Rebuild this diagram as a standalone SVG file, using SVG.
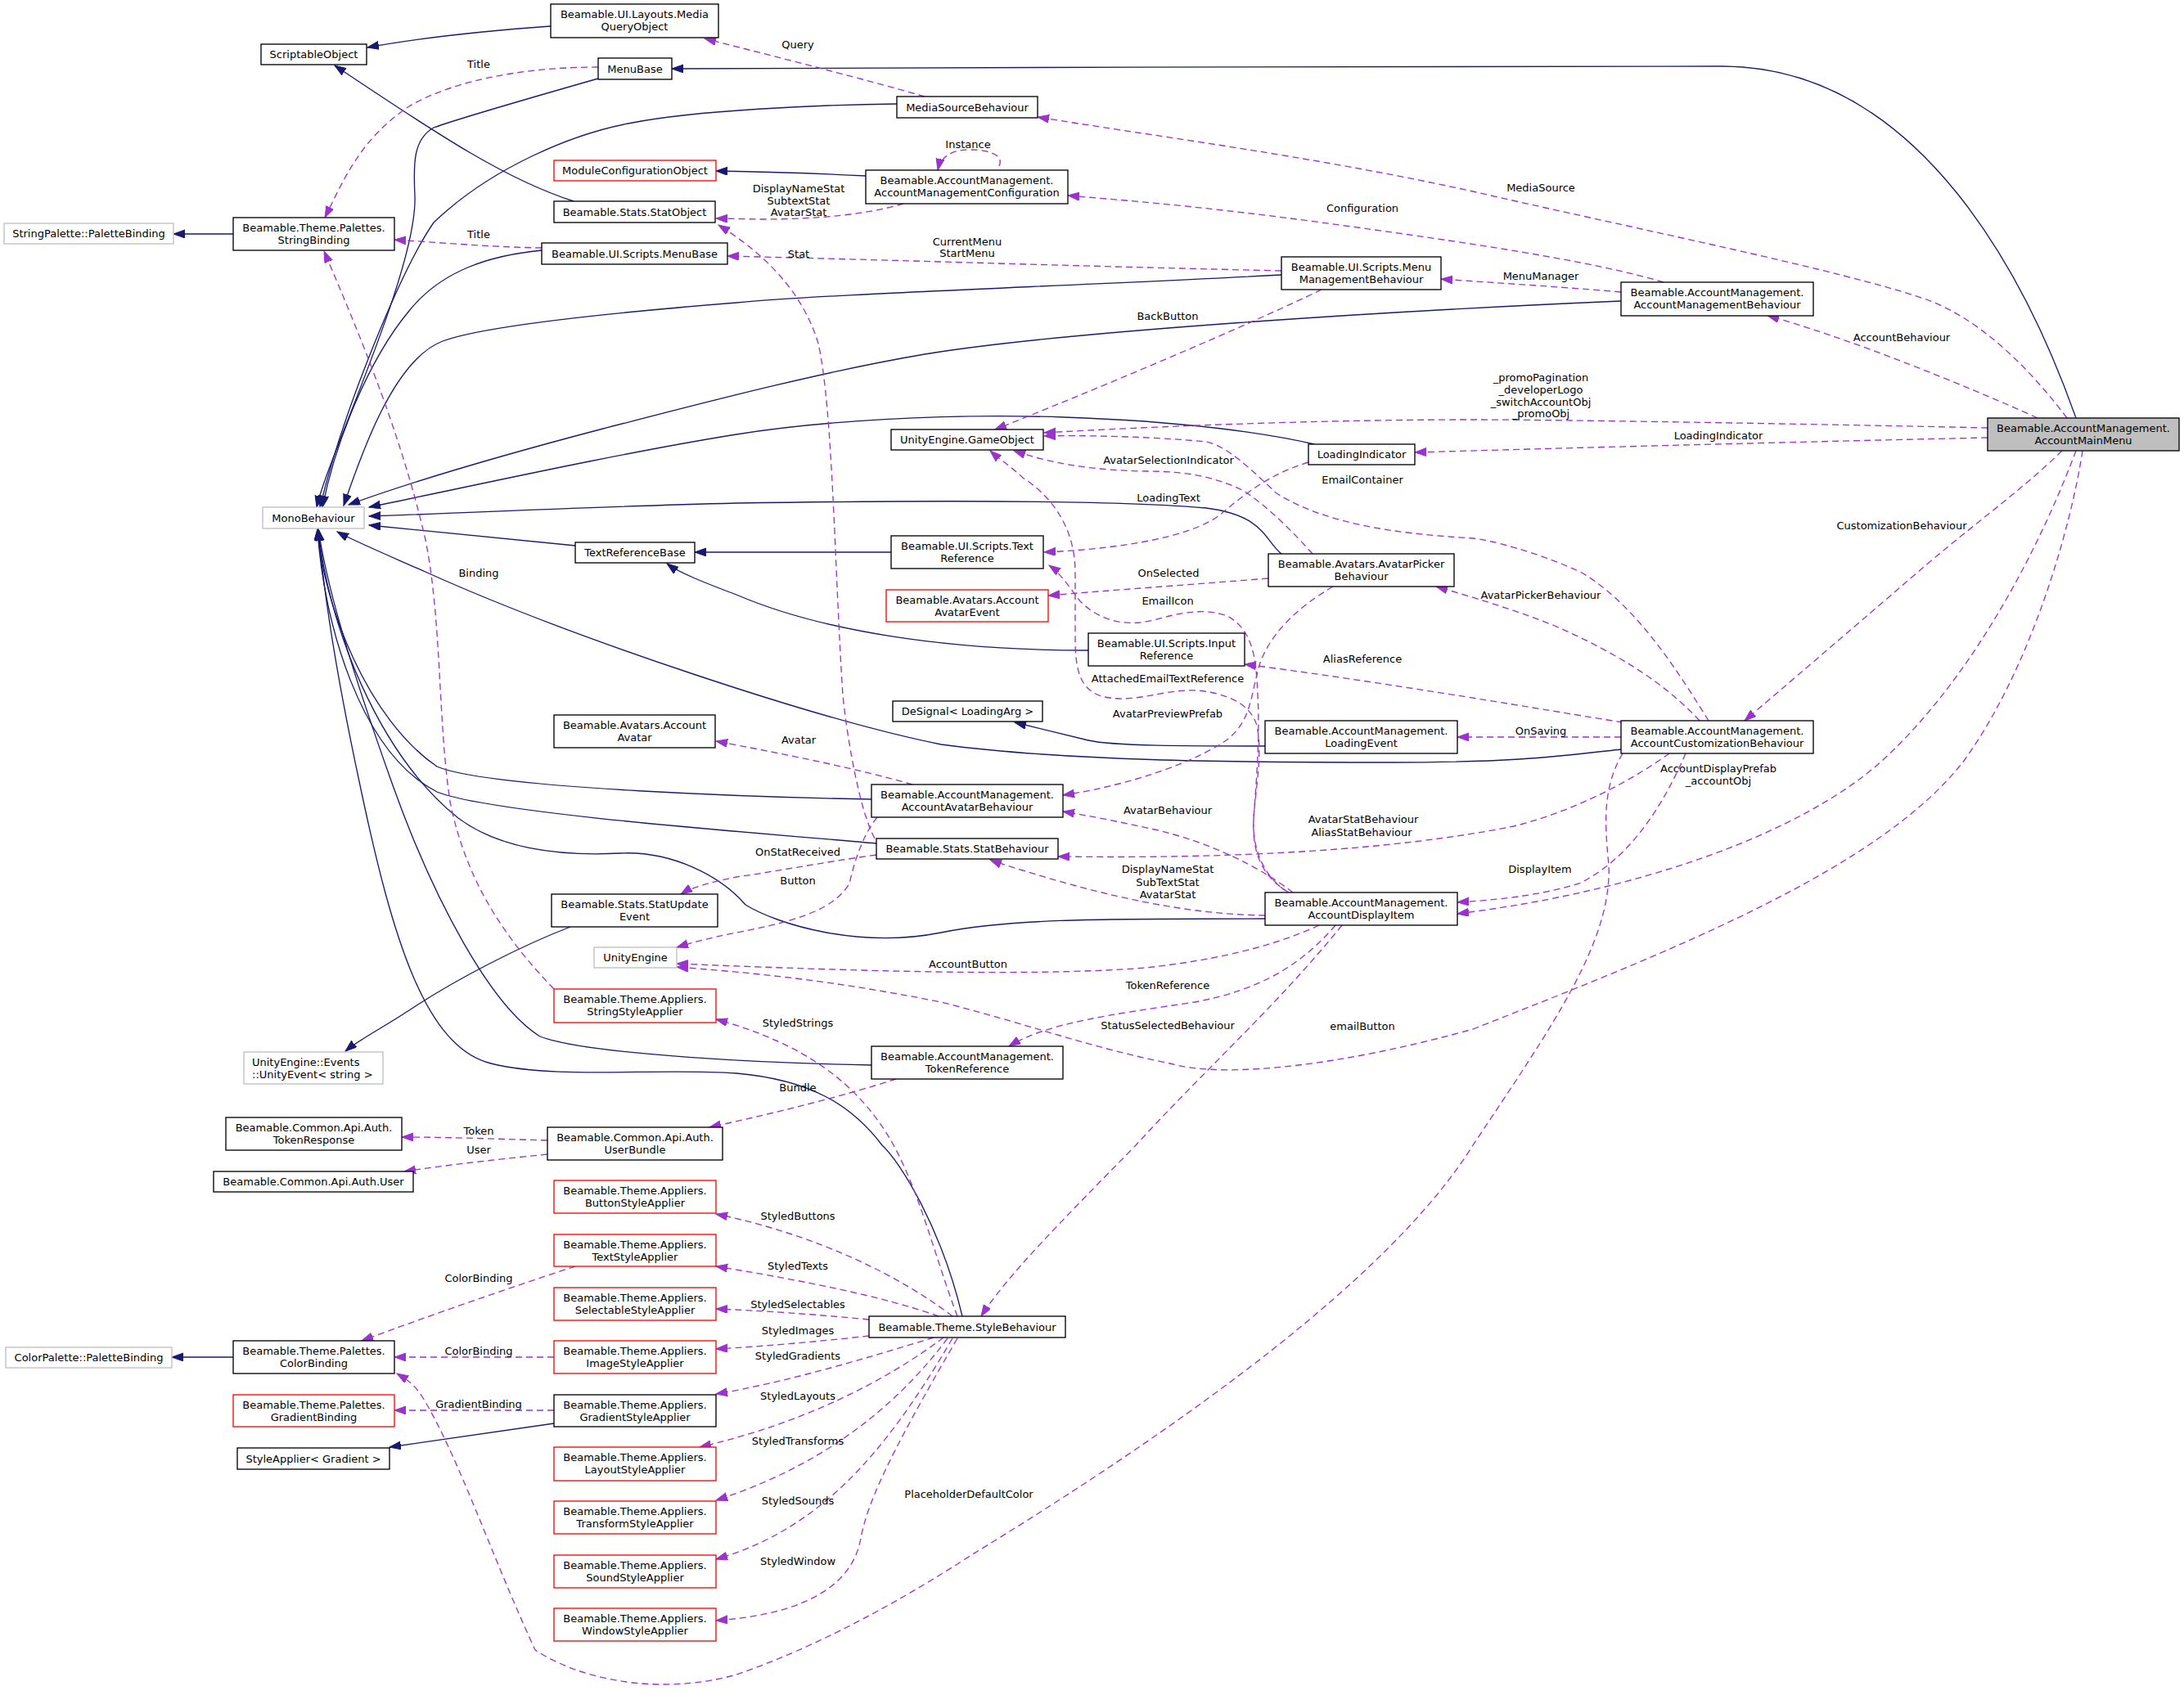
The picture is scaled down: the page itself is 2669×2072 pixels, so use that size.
<svg xmlns="http://www.w3.org/2000/svg" width="2669" height="2072" viewBox="0 0 2669 2072">
<style>
.n rect{fill:#fff;stroke:#000;stroke-width:1.33}
.n.red rect{stroke:#ff0000}
.n.gray rect{stroke:#bfbfbf}
.n.main rect{fill:#bfbfbf}
text{font-family:"DejaVu Sans",sans-serif;font-size:13px;text-anchor:middle;fill:#000}
.l{text-anchor:start}
.inh{stroke:#191970;fill:none;stroke-width:1.33;marker-end:url(#ah)}
.use{stroke:#9a32cd;fill:none;stroke-width:1.33;stroke-dasharray:8,5;marker-end:url(#au)}
</style>
<defs>
<marker id="ah" markerUnits="userSpaceOnUse" markerWidth="16" markerHeight="12" refX="14" refY="5" orient="auto"><path d="M0,0 L14,5 L0,10 z" fill="#191970" stroke="#191970"/></marker>
<marker id="au" markerUnits="userSpaceOnUse" markerWidth="16" markerHeight="12" refX="14" refY="5" orient="auto"><path d="M0,0 L14,5 L0,10 z" fill="#9a32cd" stroke="#9a32cd"/></marker>
</defs>
<rect width="2669" height="2072" fill="#fff"/>
<g id="connectors">
<path class="inh" d="M673,32 C590,38 520,45 449,58"/>
<path class="inh" d="M701,246 C620,220 540,168 409,80"/>
<path class="inh" d="M285,286 L212,286"/>
<path class="inh" d="M731,96 C640,122 560,145 530,156 C505,170 505,200 507,240 C510,330 400,560 387,620"/>
<path class="inh" d="M1096,127 C1000,128 850,135 773,150 C700,163 600,205 530,272 C490,330 420,500 391,620"/>
<path class="inh" d="M662,306 C600,312 540,330 500,380 C450,440 410,540 394,620"/>
<path class="inh" d="M1566,336 C1300,350 1000,360 900,370 C800,378 600,395 541,417 C480,440 440,560 420,618"/>
<path class="inh" d="M1981,368 C1700,380 1300,405 1130,433 C1000,455 850,495 737,524 C600,560 500,590 426,617"/>
<path class="inh" d="M1606,543 C1550,530 1450,515 1300,510 C1150,505 1000,515 900,531 C750,555 550,600 451,620"/>
<path class="inh" d="M1566,677 C1545,660 1545,630 1474,621 C1350,610 1100,612 900,615 C700,620 550,628 451,631"/>
<path class="inh" d="M703,667 L451,642"/>
<path class="inh" d="M1981,916 C1900,925 1850,932 1700,932 C1500,932 1300,930 1150,910 C1000,880 700,780 522,700 C470,677 430,660 412,650"/>
<path class="inh" d="M1065,977 C950,975 600,965 534,937 C450,880 395,740 388,647"/>
<path class="inh" d="M1071,1031 C950,1020 600,995 534,968 C440,920 395,760 388,647"/>
<path class="inh" d="M1546,1123 C1400,1124 1250,1120 1150,1140 C1050,1160 950,1130 911,1106 C880,1070 820,1040 758,1043 C660,1048 600,1030 560,1000 C460,920 400,760 389,647"/>
<path class="inh" d="M1065,1302 C950,1300 720,1290 660,1267 C600,1230 530,1100 480,960 C430,820 400,720 389,647"/>
<path class="inh" d="M1176,1609 C1150,1500 1100,1420 1078,1400 C1040,1350 990,1320 900,1312 C800,1305 680,1320 600,1300 C520,1280 480,1150 440,960 C410,820 395,720 389,647"/>
<path class="inh" d="M1089,675 L849,675"/>
<path class="inh" d="M1330,795 C1150,795 1000,770 900,727 C860,712 830,700 815,689"/>
<path class="inh" d="M1546,912 C1450,912 1360,912 1330,905 C1290,895 1260,888 1240,883"/>
<path class="inh" d="M697,1133 C640,1155 560,1195 500,1235 C470,1255 440,1270 422,1285"/>
<path class="inh" d="M677,1740 L476,1769"/>
<path class="inh" d="M285,1659 L210,1659"/>
<path class="inh" d="M2537,511 C2480,350 2350,82 2105,81 C1800,80 1200,83 821,84"/>
<path class="inh" d="M1058,215 C1000,212 930,210 875,209"/>
<path class="use" d="M1130,118 C1050,95 950,70 861,47"/>
<path class="use" d="M1104,249 C1060,262 1000,268 930,268 L875,267"/>
<path class="use" d="M1221,203 C1228,188 1205,183 1185,183 C1165,183 1150,190 1146,208"/>
<path class="use" d="M731,82 C650,82 560,95 500,130 C440,170 420,220 397,266"/>
<path class="use" d="M662,303 C600,302 530,296 482,293"/>
<path class="use" d="M1566,331 C1300,325 1100,318 889,313"/>
<path class="use" d="M1069,1025 C1050,990 1035,900 1030,850 C1020,700 1018,500 1000,420 C985,370 950,320 878,275"/>
<path class="use" d="M1615,354 C1520,400 1330,480 1216,525"/>
<path class="use" d="M2526,511 C2480,450 2420,390 2354,366 C2250,330 2000,280 1800,234 C1600,190 1400,165 1268,143"/>
<path class="use" d="M2490,511 C2400,470 2250,410 2160,386"/>
<path class="use" d="M2033,345 C1950,320 1800,297 1600,270 C1450,250 1350,243 1305,239"/>
<path class="use" d="M1981,357 C1900,350 1800,344 1761,341"/>
<path class="use" d="M2429,523 C2200,518 1900,513 1800,513 C1600,513 1400,522 1276,529"/>
<path class="use" d="M2429,535 C2200,540 1900,548 1729,553"/>
<path class="use" d="M2520,551 C2470,600 2400,650 2343,700 C2250,780 2180,840 2132,881"/>
<path class="use" d="M2537,551 C2500,650 2420,820 2300,930 C2200,1020 2000,1090 1781,1117"/>
<path class="use" d="M2060,921 C2030,990 1990,1050 1930,1080 C1880,1095 1830,1100 1781,1103"/>
<path class="use" d="M2545,551 C2530,650 2480,820 2400,930 C2300,1060 2050,1160 1800,1258 C1650,1300 1500,1320 1430,1300 C1330,1280 1250,1250 1150,1225 C1000,1195 900,1188 827,1182"/>
<path class="use" d="M1983,921 C1960,960 1960,1000 1966,1057 C1970,1150 1900,1250 1800,1400 C1700,1560 1450,1740 1187,1901 C1050,1990 950,2030 900,2047 C820,2070 720,2060 654,2017 C600,1900 560,1780 517,1709 C505,1690 495,1685 485,1679"/>
<path class="use" d="M2088,881 C2050,820 2000,740 1933,700 C1880,675 1820,660 1800,658 C1700,652 1620,640 1560,603 C1530,575 1500,545 1474,540 C1400,533 1320,532 1276,533"/>
<path class="use" d="M1604,677 C1580,650 1550,620 1520,600 C1480,580 1440,576 1400,576 C1330,575 1280,565 1239,551"/>
<path class="use" d="M1575,1091 C1540,1070 1530,1040 1532,1000 C1535,960 1543,921 1536,887 C1528,860 1500,848 1464,844 C1420,842 1390,860 1350,852 C1320,845 1314,820 1314,780 L1314,700 C1314,650 1290,610 1250,584 C1235,570 1220,560 1210,551"/>
<path class="use" d="M1571,1089 C1545,1070 1530,1040 1532,1000 C1535,960 1540,900 1537,850 C1535,800 1530,770 1500,753 C1470,742 1440,750 1410,758 C1370,768 1340,755 1320,735 C1305,715 1295,700 1282,691"/>
<path class="use" d="M1599,565 C1550,580 1520,605 1490,630 C1450,660 1350,672 1276,675"/>
<path class="use" d="M1550,707 C1450,715 1350,722 1281,728"/>
<path class="use" d="M1629,717 C1590,740 1555,770 1540,810 C1528,850 1530,880 1500,904 C1460,932 1380,960 1299,972"/>
<path class="use" d="M2077,881 C2030,830 1966,794 1900,765 C1850,745 1800,730 1755,717"/>
<path class="use" d="M1983,883 C1900,870 1700,835 1521,812"/>
<path class="use" d="M1981,901 L1781,901"/>
<path class="use" d="M2040,921 C2000,950 1930,990 1850,1010 C1700,1040 1500,1050 1293,1047"/>
<path class="use" d="M1580,1091 C1540,1060 1480,1030 1411,1014 C1370,1005 1330,997 1299,992"/>
<path class="use" d="M1546,1119 C1450,1118 1350,1095 1250,1064 C1230,1058 1215,1053 1210,1051"/>
<path class="use" d="M1612,1131 C1550,1160 1474,1175 1400,1183 C1250,1195 1000,1185 827,1178"/>
<path class="use" d="M1632,1131 C1590,1180 1540,1210 1460,1225 C1360,1240 1280,1250 1233,1279"/>
<path class="use" d="M1640,1131 C1560,1230 1470,1310 1388,1400 C1300,1490 1230,1560 1199,1609"/>
<path class="use" d="M1115,959 C1050,940 950,920 875,906"/>
<path class="use" d="M1071,1045 C1000,1055 950,1065 900,1072 C870,1078 845,1085 832,1093"/>
<path class="use" d="M1072,999 C1055,1020 1045,1050 1038,1080 C1020,1110 980,1125 900,1140 C860,1148 840,1154 827,1158"/>
<path class="use" d="M1095,1319 C1030,1340 950,1360 867,1378"/>
<path class="use" d="M669,1394 C600,1392 540,1390 491,1390"/>
<path class="use" d="M669,1411 C600,1418 540,1425 494,1432"/>
<path class="use" d="M1170,1609 C1140,1530 1120,1440 1080,1380 C1040,1320 980,1275 875,1246"/>
<path class="use" d="M677,1209 C620,1150 570,1080 550,980 C535,880 540,760 520,660 C490,530 440,410 396,307"/>
<path class="use" d="M1164,1609 C1100,1560 1000,1510 875,1484"/>
<path class="use" d="M1147,1609 C1080,1585 980,1565 875,1548"/>
<path class="use" d="M1062,1613 C1000,1607 930,1602 875,1600"/>
<path class="use" d="M1062,1633 C1000,1640 930,1646 875,1649"/>
<path class="use" d="M1141,1635 C1060,1660 960,1690 875,1704"/>
<path class="use" d="M1153,1635 C1080,1690 980,1740 855,1769"/>
<path class="use" d="M1158,1636 C1080,1740 980,1800 875,1834"/>
<path class="use" d="M1164,1636 C1080,1780 1000,1870 875,1906"/>
<path class="use" d="M1170,1636 C1080,1790 1060,1840 1052,1880 C1040,1950 960,1975 875,1981"/>
<path class="use" d="M703,1548 C620,1575 520,1610 442,1639"/>
<path class="use" d="M677,1659 L482,1659"/>
<path class="use" d="M677,1724 L482,1724"/>
<g id="edge-labels">
<text x="975" y="59">Query</text>
<text x="1183" y="181">Instance</text>
<text x="976" y="235">DisplayNameStat</text>
<text x="976" y="250">SubtextStat</text>
<text x="976" y="264">AvatarStat</text>
<text x="585" y="83">Title</text>
<text x="585" y="291">Title</text>
<text x="1182" y="300">CurrentMenu</text>
<text x="1182" y="314">StartMenu</text>
<text x="976" y="315">Stat</text>
<text x="1883" y="234">MediaSource</text>
<text x="2324" y="417">AccountBehaviour</text>
<text x="1665" y="259">Configuration</text>
<text x="1883" y="342">MenuManager</text>
<text x="1427" y="391">BackButton</text>
<text x="1883" y="466">_promoPagination</text>
<text x="1883" y="481">_developerLogo</text>
<text x="1883" y="496">_switchAccountObj</text>
<text x="1883" y="510">_promoObj</text>
<text x="2100" y="537">LoadingIndicator</text>
<text x="2324" y="647">CustomizationBehaviour</text>
<text x="1882" y="1067">DisplayItem</text>
<text x="2100" y="944">AccountDisplayPrefab</text>
<text x="2100" y="959">_accountObj</text>
<text x="1665" y="1259">emailButton</text>
<text x="1184" y="1831">PlaceholderDefaultColor</text>
<text x="1665" y="591">EmailContainer</text>
<text x="1428" y="567">AvatarSelectionIndicator</text>
<text x="1427" y="739">EmailIcon</text>
<text x="1427" y="834">AttachedEmailTextReference</text>
<text x="1428" y="613">LoadingText</text>
<text x="1428" y="705">OnSelected</text>
<text x="1427" y="877">AvatarPreviewPrefab</text>
<text x="1883" y="732">AvatarPickerBehaviour</text>
<text x="1665" y="810">AliasReference</text>
<text x="1883" y="898">OnSaving</text>
<text x="1666" y="1006">AvatarStatBehaviour</text>
<text x="1664" y="1022">AliasStatBehaviour</text>
<text x="1427" y="995">AvatarBehaviour</text>
<text x="1427" y="1067">DisplayNameStat</text>
<text x="1427" y="1083">SubTextStat</text>
<text x="1427" y="1098">AvatarStat</text>
<text x="1183" y="1183">AccountButton</text>
<text x="1427" y="1209">TokenReference</text>
<text x="1427" y="1258">StatusSelectedBehaviour</text>
<text x="976" y="909">Avatar</text>
<text x="975" y="1046">OnStatReceived</text>
<text x="975" y="1081">Button</text>
<text x="975" y="1334">Bundle</text>
<text x="585" y="1387">Token</text>
<text x="585" y="1410">User</text>
<text x="975" y="1255">StyledStrings</text>
<text x="585" y="705">Binding</text>
<text x="975" y="1491">StyledButtons</text>
<text x="975" y="1552">StyledTexts</text>
<text x="975" y="1599">StyledSelectables</text>
<text x="975" y="1631">StyledImages</text>
<text x="975" y="1662">StyledGradients</text>
<text x="975" y="1711">StyledLayouts</text>
<text x="975" y="1766">StyledTransforms</text>
<text x="975" y="1839">StyledSounds</text>
<text x="975" y="1913">StyledWindow</text>
<text x="585" y="1567">ColorBinding</text>
<text x="585" y="1656">ColorBinding</text>
<text x="585" y="1721">GradientBinding</text>
</g>
</g>
<g id="nodes">
<g id="n_mediaquery" class="n"><rect x="673" y="5" width="205" height="41"/><text x="775.5" y="22">Beamable.UI.Layouts.Media</text><text x="775.5" y="37">QueryObject</text></g>
<g id="n_scriptable" class="n"><rect x="319" y="54" width="129" height="25"/><text x="383.5" y="71">ScriptableObject</text></g>
<g id="n_menubase" class="n"><rect x="731" y="71" width="90" height="26"/><text x="776" y="88.5">MenuBase</text></g>
<g id="n_moduleconfig" class="n red"><rect x="677" y="196" width="198" height="25"/><text x="776" y="213">ModuleConfigurationObject</text></g>
<g id="n_statobject" class="n"><rect x="677" y="246" width="197" height="26"/><text x="775.5" y="263.5">Beamable.Stats.StatObject</text></g>
<g id="n_stringbinding" class="n"><rect x="285" y="266" width="197" height="40"/><text x="383.5" y="283">Beamable.Theme.Palettes.</text><text x="383.5" y="298">StringBinding</text></g>
<g id="n_stringpalette" class="n gray"><rect x="5" y="273" width="207" height="25"/><text x="108.5" y="290">StringPalette::PaletteBinding</text></g>
<g id="n_uimenubase" class="n"><rect x="662" y="297" width="227" height="26"/><text x="775.5" y="314.5">Beamable.UI.Scripts.MenuBase</text></g>
<g id="n_mono" class="n gray"><rect x="321" y="620" width="124" height="26"/><text x="383" y="637.5">MonoBehaviour</text></g>
<g id="n_textrefbase" class="n"><rect x="703" y="663" width="146" height="25"/><text x="776" y="680">TextReferenceBase</text></g>
<g id="n_mediasource" class="n"><rect x="1096" y="118" width="172" height="26"/><text x="1182" y="135.5">MediaSourceBehaviour</text></g>
<g id="n_amconfig" class="n"><rect x="1058" y="208" width="247" height="41"/><text x="1181.5" y="225">Beamable.AccountManagement.</text><text x="1181.5" y="240">AccountManagementConfiguration</text></g>
<g id="n_menumgmt" class="n"><rect x="1566" y="314" width="195" height="40"/><text x="1663.5" y="331">Beamable.UI.Scripts.Menu</text><text x="1663.5" y="346">ManagementBehaviour</text></g>
<g id="n_gameobject" class="n"><rect x="1089" y="525" width="186" height="25"/><text x="1182" y="542">UnityEngine.GameObject</text></g>
<g id="n_loadingind" class="n"><rect x="1599" y="543" width="130" height="25"/><text x="1664" y="560">LoadingIndicator</text></g>
<g id="n_textref" class="n"><rect x="1089" y="655" width="186" height="40"/><text x="1182" y="672">Beamable.UI.Scripts.Text</text><text x="1182" y="687">Reference</text></g>
<g id="n_avatarpicker" class="n"><rect x="1550" y="677" width="227" height="40"/><text x="1663.5" y="694">Beamable.Avatars.AvatarPicker</text><text x="1663.5" y="709">Behaviour</text></g>
<g id="n_ambehaviour" class="n"><rect x="1981" y="345" width="235" height="41"/><text x="2098.5" y="362">Beamable.AccountManagement.</text><text x="2098.5" y="377">AccountManagementBehaviour</text></g>
<g id="n_mainmenu" class="n main"><rect x="2429" y="511" width="234" height="40"/><text x="2546" y="528">Beamable.AccountManagement.</text><text x="2546" y="543">AccountMainMenu</text></g>
<g id="n_avatarevent" class="n red"><rect x="1083" y="721" width="198" height="39"/><text x="1182" y="738">Beamable.Avatars.Account</text><text x="1182" y="753">AvatarEvent</text></g>
<g id="n_inputref" class="n"><rect x="1330" y="774" width="191" height="40"/><text x="1425.5" y="791">Beamable.UI.Scripts.Input</text><text x="1425.5" y="806">Reference</text></g>
<g id="n_designal" class="n"><rect x="1091" y="857" width="183" height="25"/><text x="1182.5" y="874">DeSignal&lt; LoadingArg &gt;</text></g>
<g id="n_loadingevent" class="n"><rect x="1546" y="881" width="235" height="40"/><text x="1663.5" y="898">Beamable.AccountManagement.</text><text x="1663.5" y="913">LoadingEvent</text></g>
<g id="n_avatarbeh" class="n"><rect x="1065" y="959" width="234" height="40"/><text x="1182" y="976">Beamable.AccountManagement.</text><text x="1182" y="991">AccountAvatarBehaviour</text></g>
<g id="n_statbeh" class="n"><rect x="1071" y="1025" width="222" height="25"/><text x="1182" y="1042">Beamable.Stats.StatBehaviour</text></g>
<g id="n_displayitem" class="n"><rect x="1546" y="1091" width="235" height="40"/><text x="1663.5" y="1108">Beamable.AccountManagement.</text><text x="1663.5" y="1123">AccountDisplayItem</text></g>
<g id="n_tokenref" class="n"><rect x="1065" y="1279" width="234" height="40"/><text x="1182" y="1296">Beamable.AccountManagement.</text><text x="1182" y="1311">TokenReference</text></g>
<g id="n_accountavatar" class="n"><rect x="677" y="874" width="197" height="40"/><text x="775.5" y="891">Beamable.Avatars.Account</text><text x="775.5" y="906">Avatar</text></g>
<g id="n_statupdate" class="n"><rect x="674" y="1093" width="203" height="40"/><text x="775.5" y="1110">Beamable.Stats.StatUpdate</text><text x="775.5" y="1125">Event</text></g>
<g id="n_unityengine" class="n gray"><rect x="726" y="1158" width="101" height="25"/><text x="776.5" y="1175">UnityEngine</text></g>
<g id="n_stringstyle" class="n red"><rect x="677" y="1209" width="198" height="41"/><text x="776" y="1226">Beamable.Theme.Appliers.</text><text x="776" y="1241">StringStyleApplier</text></g>
<g id="n_unityevent" class="n gray"><rect x="298" y="1286" width="170" height="39"/><text class="l" x="308" y="1303">UnityEngine::Events</text><text class="l" x="308" y="1318">::UnityEvent&lt; string &gt;</text></g>
<g id="n_tokenresp" class="n"><rect x="276" y="1366" width="215" height="40"/><text x="383.5" y="1383">Beamable.Common.Api.Auth.</text><text x="383.5" y="1398">TokenResponse</text></g>
<g id="n_userbundle" class="n"><rect x="669" y="1378" width="214" height="40"/><text x="776" y="1395">Beamable.Common.Api.Auth.</text><text x="776" y="1410">UserBundle</text></g>
<g id="n_user" class="n"><rect x="261" y="1432" width="244" height="25"/><text x="383" y="1449">Beamable.Common.Api.Auth.User</text></g>
<g id="n_buttonstyle" class="n red"><rect x="677" y="1443" width="198" height="40"/><text x="776" y="1460">Beamable.Theme.Appliers.</text><text x="776" y="1475">ButtonStyleApplier</text></g>
<g id="n_textstyle" class="n red"><rect x="677" y="1509" width="198" height="39"/><text x="776" y="1526">Beamable.Theme.Appliers.</text><text x="776" y="1541">TextStyleApplier</text></g>
<g id="n_selectablestyle" class="n red"><rect x="677" y="1574" width="198" height="40"/><text x="776" y="1591">Beamable.Theme.Appliers.</text><text x="776" y="1606">SelectableStyleApplier</text></g>
<g id="n_imagestyle" class="n red"><rect x="677" y="1639" width="198" height="40"/><text x="776" y="1656">Beamable.Theme.Appliers.</text><text x="776" y="1671">ImageStyleApplier</text></g>
<g id="n_gradientstyle" class="n"><rect x="677" y="1705" width="198" height="39"/><text x="776" y="1722">Beamable.Theme.Appliers.</text><text x="776" y="1737">GradientStyleApplier</text></g>
<g id="n_layoutstyle" class="n red"><rect x="677" y="1769" width="198" height="41"/><text x="776" y="1786">Beamable.Theme.Appliers.</text><text x="776" y="1801">LayoutStyleApplier</text></g>
<g id="n_transformstyle" class="n red"><rect x="677" y="1835" width="198" height="40"/><text x="776" y="1852">Beamable.Theme.Appliers.</text><text x="776" y="1867">TransformStyleApplier</text></g>
<g id="n_soundstyle" class="n red"><rect x="677" y="1901" width="198" height="40"/><text x="776" y="1918">Beamable.Theme.Appliers.</text><text x="776" y="1933">SoundStyleApplier</text></g>
<g id="n_windowstyle" class="n red"><rect x="677" y="1966" width="198" height="40"/><text x="776" y="1983">Beamable.Theme.Appliers.</text><text x="776" y="1998">WindowStyleApplier</text></g>
<g id="n_colorpalette" class="n gray"><rect x="7" y="1647" width="203" height="25"/><text x="108.5" y="1664">ColorPalette::PaletteBinding</text></g>
<g id="n_colorbinding" class="n"><rect x="285" y="1639" width="197" height="40"/><text x="383.5" y="1656">Beamable.Theme.Palettes.</text><text x="383.5" y="1671">ColorBinding</text></g>
<g id="n_gradientbinding" class="n red"><rect x="285" y="1705" width="197" height="39"/><text x="383.5" y="1722">Beamable.Theme.Palettes.</text><text x="383.5" y="1737">GradientBinding</text></g>
<g id="n_styleapplier" class="n"><rect x="290" y="1770" width="186" height="26"/><text x="383" y="1787.5">StyleApplier&lt; Gradient &gt;</text></g>
<g id="n_stylebeh" class="n"><rect x="1062" y="1609" width="240" height="26"/><text x="1182" y="1626.5">Beamable.Theme.StyleBehaviour</text></g>
<g id="n_custbeh" class="n"><rect x="1981" y="881" width="235" height="40"/><text x="2098.5" y="898">Beamable.AccountManagement.</text><text x="2098.5" y="913">AccountCustomizationBehaviour</text></g>
</g>
</svg>
